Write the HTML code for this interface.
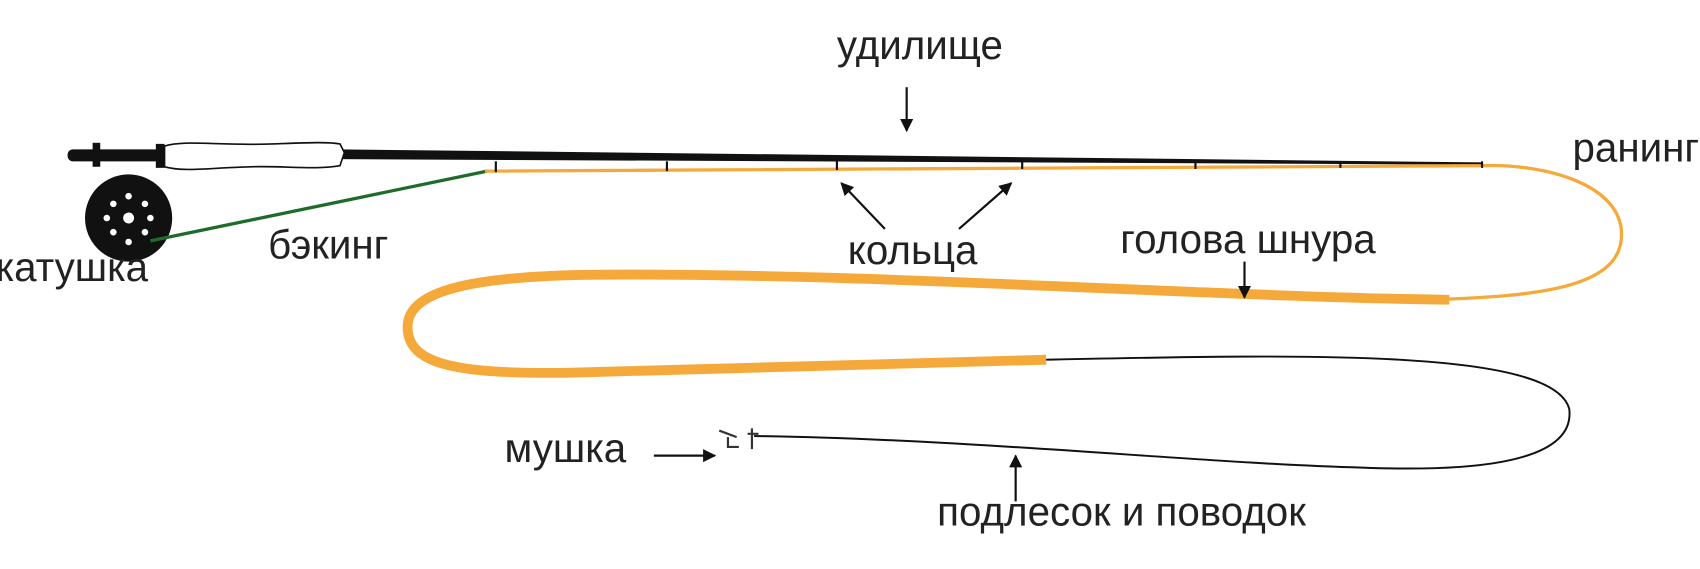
<!DOCTYPE html>
<html><head><meta charset="utf-8"><style>
html,body{margin:0;padding:0;background:#fff;}
svg{display:block;}
text{font-family:"Liberation Sans",sans-serif;fill:#222;font-size:37px;}
</style></head><body>
<svg width="1700" height="569" viewBox="0 0 1560 522" preserveAspectRatio="none" xmlns="http://www.w3.org/2000/svg">
<defs><marker id="a" viewBox="0 0 10 10" refX="9" refY="5" markerWidth="6" markerHeight="6" orient="auto"><path d="M0,0 L10,5 L0,10 z" fill="#111"/></marker></defs>
<path d="M310,137 L1360,149 L1360,151 L310,146 z" fill="#111"/>
<rect x="62" y="137" width="90" height="11" rx="5" fill="#111"/>
<rect x="85" y="131" width="7" height="22" fill="#111"/>
<rect x="143" y="132" width="8" height="22" fill="#111"/>
<path d="M151,134 C170,128 200,134 250,132 C280,131 300,130 312,132 L316,140 L312,152 C290,156 260,152 230,153 C190,154 170,158 151,153 z" fill="#fff" stroke="#111" stroke-width="1.5"/>
<circle cx="118" cy="200" r="40" fill="#111"/>
<g fill="#fff"><circle cx="118" cy="200" r="5"/><circle cx="118" cy="180" r="3"/><circle cx="118" cy="222" r="3"/><circle cx="98" cy="200" r="3"/><circle cx="138" cy="200" r="3"/><circle cx="104" cy="187" r="3"/><circle cx="133" cy="187" r="3"/><circle cx="104" cy="213" r="3"/><circle cx="133" cy="213" r="3"/></g>
<line x1="138" y1="221" x2="447" y2="157" stroke="#1f6b2a" stroke-width="3"/>
<path d="M445,157 L1360,152 C1420,150 1488,170 1488,215 C1488,262 1420,272 1310,275" fill="none" stroke="#f6a93b" stroke-width="3"/>
<path d="M1330,275 C1100,272 800,250 550,252 C420,253 374,270 374,300 C374,335 420,343 520,342 C700,338 850,332 960,330" fill="none" stroke="#f6a93b" stroke-width="9"/>
<path d="M960,330 C1200,325 1425,320 1440,375 C1447,430 1330,432 1250,429 C1100,425 900,403 692,400" fill="none" stroke="#111" stroke-width="1.8"/>
<path d="M660,395 L676,401 M668,401 L668,410 L678,410 M690,393 L690,412 M686,398 L696,398" stroke="#333" stroke-width="2" fill="none"/>
<g stroke="#111" stroke-width="2"><line x1="455" y1="148" x2="455" y2="158"/><line x1="612" y1="148" x2="612" y2="157"/><line x1="768" y1="147" x2="768" y2="156"/><line x1="938" y1="147" x2="938" y2="155"/><line x1="1097" y1="148" x2="1097" y2="155"/><line x1="1230" y1="148" x2="1230" y2="154"/><line x1="1360" y1="148" x2="1360" y2="154"/></g>
<g stroke="#111" stroke-width="2" marker-end="url(#a)">
<line x1="832" y1="80" x2="832" y2="120"/>
<line x1="812" y1="210" x2="772" y2="168"/>
<line x1="880" y1="210" x2="928" y2="168"/>
<line x1="1142" y1="240" x2="1142" y2="273"/>
<line x1="600" y1="418" x2="656" y2="418"/>
<line x1="932" y1="460" x2="932" y2="418"/>
</g>
<text x="768" y="54">удилище</text>
<text x="1443" y="148">ранинг</text>
<text x="778" y="242">кольца</text>
<text x="1028" y="232">голова шнура</text>
<text x="246" y="237">бэкинг</text>
<text x="-4" y="258">катушка</text>
<text x="463" y="424">мушка</text>
<text x="860" y="482">подлесок и поводок</text>
</svg>
</body></html>
